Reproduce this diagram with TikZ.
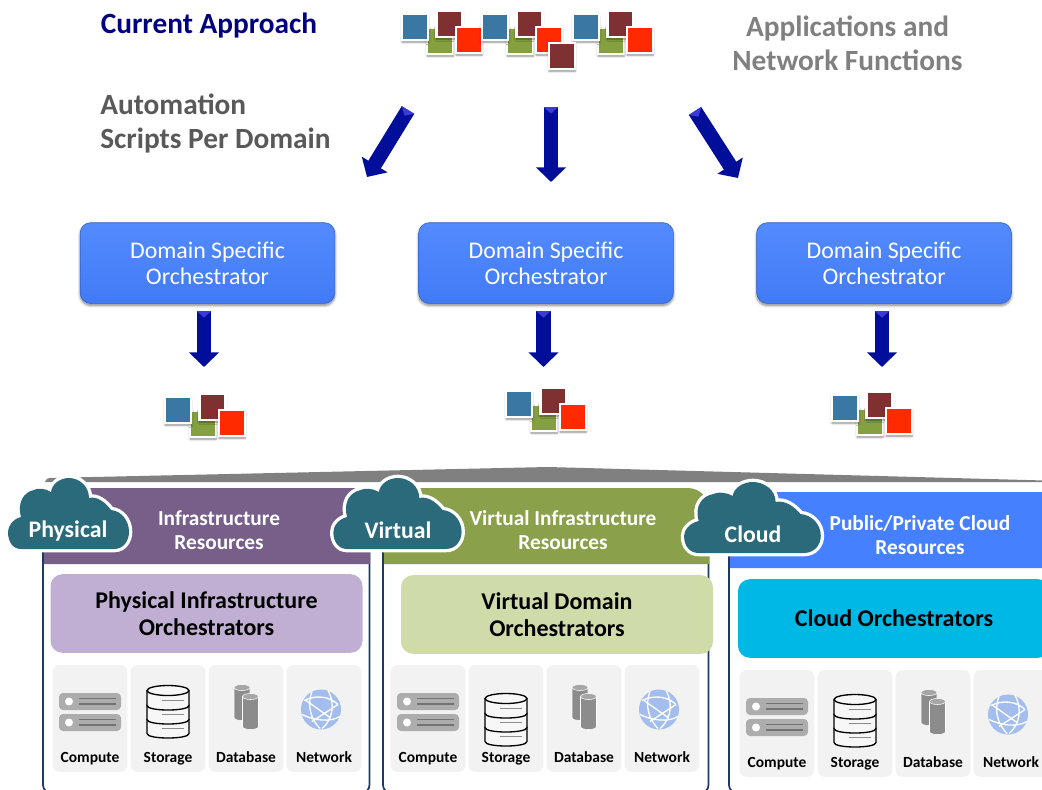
\documentclass[tikz,border=0pt]{standalone}
\usepackage{fontspec}
\setmainfont{Carlito}
\usetikzlibrary{arrows.meta,calc,positioning,shadows.blur}

\definecolor{navy}{HTML}{000080}
\definecolor{arrowblue}{HTML}{000E9A}
\definecolor{arrowlight}{HTML}{3A3AD8}
\definecolor{cloudteal}{HTML}{2A6A7A}
\definecolor{framenavy}{HTML}{1F3864}
\definecolor{purplehead}{HTML}{775F8A}
\definecolor{greenhead}{HTML}{8AA04A}
\definecolor{bluehead}{HTML}{4480FF}
\definecolor{purpleorch}{HTML}{C0AFD2}
\definecolor{greenorch}{HTML}{CFDCAA}
\definecolor{cyanorch}{HTML}{00B8E6}
\definecolor{sqblue}{HTML}{3A78A3}
\definecolor{sqgreen}{HTML}{84A040}
\definecolor{sqbrown}{HTML}{7F3030}
\definecolor{sqred}{HTML}{FF2A00}
\definecolor{iconblue}{HTML}{A3BEEE}

\tikzstyle{arrow}=[draw=arrowblue, line width=11pt, -{Triangle[length=11pt,width=22pt]}]
\tikzstyle{square}=[draw=white, line width=1.6pt, minimum size=19.5pt, inner sep=0pt, blur shadow={shadow xshift=0pt, shadow yshift=-1.6pt, shadow blur steps=6, shadow blur radius=1.6pt, shadow opacity=45}]
\tikzstyle{dso}=[rounded corners=8pt, minimum width=191pt, minimum height=60.5pt, inner sep=0pt, align=center, text=white, top color=bluehead!92!white, bottom color=bluehead!96!black, draw=bluehead!80!black, line width=.5pt, blur shadow={shadow xshift=0pt, shadow yshift=-1.6pt, shadow blur steps=6, shadow blur radius=2pt, shadow opacity=50}, font=\fontsize{17.9}{19.5}\selectfont]
\tikzstyle{heading}=[inner sep=0pt, align=center, font=\fontsize{22}{25.5}\bfseries\selectfont]
\tikzstyle{headtext}=[inner sep=0pt, align=center, text=white, font=\fontsize{16}{18}\bfseries\selectfont]
\tikzstyle{orch}=[rounded corners=9pt, minimum width=234pt, minimum height=59pt, inner sep=0pt, align=center, font=\fontsize{18}{20}\bfseries\selectfont]
\tikzstyle{tile}=[fill=black!5, rounded corners=5pt, minimum width=56pt, minimum height=80pt, inner sep=0pt]
\tikzstyle{tiletext}=[inner sep=0pt, text height=8pt, text depth=2.5pt, font=\fontsize{11.6}{13}\bfseries\selectfont]
\tikzstyle{lane}=[draw=framenavy, line width=1.3pt, rounded corners=6pt]
\tikzstyle{cloudtext}=[inner sep=0pt, text=white, font=\fontsize{17.8}{20}\bfseries\selectfont]

\tikzset{
  apps/.pic={
    \node (-g) [square, fill=sqgreen] at (25,14) {};
    \node (-b) [square, fill=sqblue] at (0,0) {};
    \node (-m) [square, fill=sqbrown] at (34.5,-3) {};
    \node (-r) [square, fill=sqred] at (54,13) {};
  },
  domaincloud/.pic={
    \path [preaction={draw=white, line width=5pt}, fill=cloudteal] (-48,17) -- (45,17)
      .. controls (55,17) and (60,8) .. (60,0)
      .. controls (60,-12) and (52,-21) .. (42,-22)
      .. controls (36,-30) and (28,-36) .. (20,-34)
      .. controls (20,-46) and (10,-54) .. (0,-54)
      .. controls (-9,-54) and (-17,-48) .. (-18,-40)
      .. controls (-24,-44) and (-32,-44) .. (-35,-42)
      .. controls (-45,-40) and (-52,-30) .. (-48,-15)
      .. controls (-56,-13) and (-61,-6) .. (-61,0)
      .. controls (-61,10) and (-56,17) .. (-48,17) -- cycle;
  },
  compute/.pic={
    \foreach \y in {-25.5,-4.5} {
      \fill [black!32, rounded corners=3pt] (-31,\y) rectangle (31,\y+17);
      \fill [white] (-21,\y+8.5) circle (4);
      \draw [black!55, line width=.9pt] (-11,\y+5.5) -- (26,\y+5.5) (-11,\y+11) -- (26,\y+11);
    }
  },
  storage/.pic={
    \foreach \y in {22,8,-6} {
      \draw [fill=black!3, draw=black, line width=1pt] (-21,#1+\y-22) -- (-21,#1+\y-7)
        .. controls (-21,#1+\y-1) and (21,#1+\y-1) .. (21,#1+\y-7) -- (21,#1+\y-22);
      \draw [black!45, line width=1pt] (-6,#1+\y-12) -- (16,#1+\y-12);
    }
    \draw [fill=black!3, draw=black, line width=1pt] (0,#1-28) ellipse (21 and 5);
  },
  database/.pic={
    \foreach \cx/\top/\bot in {-4/-31/-1,4.5/-22/8} {
      \fill [black!45, draw=white, line width=.4pt] (\cx-8,\top) -- (\cx-8,\bot)
        .. controls (\cx-8,\bot+4) and (\cx+8,\bot+4) .. (\cx+8,\bot) -- (\cx+8,\top) -- cycle;
      \fill [black!35, draw=white, line width=.4pt] (\cx,\top) ellipse (8 and 3);
    }
  },
  network/.pic={
    \fill [iconblue] (-3,-9) circle (20);
    \draw [white, line width=1pt] (-20,-18) .. controls (-8,-24) and (6,-22) .. (14,-14)
      (-22,-4) .. controls (-10,2) and (6,4) .. (16,-2)
      (-12,-27) .. controls (-18,-12) and (-12,2) .. (-4,10)
      (4,-28) .. controls (12,-14) and (8,2) .. (-2,10)
      (-18,-18) -- (6,-1) (14,-14) -- (-12,3);
  }
}

\begin{document}
\begin{tikzpicture}[x=.75pt,y=-.75pt]
\useasboundingbox (0,0) rectangle (1042,789);

% top row
\node (current) [heading, text=navy] at (209,25.5) {Current Approach};
\node (scripts) [heading, text=black!65, align=left, anchor=west] at (100,123) {Automation\\Scripts Per Domain};
\node (functions) [heading, text=black!50] at (847.5,43.5) {Applications and\\Network Functions};

\pic (top1) at (415,27) {apps};
\pic (top2) at (495,27) {apps};
\pic (top3) at (586,27) {apps};
\node (topx) [square, fill=sqbrown] at (562,56) {};

% orchestrators
\node (dso1) [dso] at (207.5,263) {Domain Specific\\Orchestrator};
\node (dso2) [dso, right of=dso1, node distance=253.9pt] {Domain Specific\\Orchestrator};
\node (dso3) [dso, right of=dso2, node distance=253.5pt] {Domain Specific\\Orchestrator};

\coordinate (fromtop1) at (408,110);
\coordinate (fromtop2) at (551,107);
\coordinate (fromtop3) at (695,111);
\coordinate (intodso1) at (367,177);
\coordinate (intodso2) at (551,182);
\coordinate (intodso3) at (738,178);
\coordinate (fromdso1) at (204,311);
\coordinate (fromdso2) at (543.5,311);
\coordinate (fromdso3) at (882,311);
\coordinate (intoapps1) at (204,367);
\coordinate (intoapps2) at (543.5,367);
\coordinate (intoapps3) at (882,367);

\foreach \a/\b in {fromtop1/intodso1,fromtop2/intodso2,fromtop3/intodso3,fromdso1/intoapps1,fromdso2/intoapps2,fromdso3/intoapps3} {
  \draw [arrow] (\a) -- (\b);
  \fill [arrowlight] ($(\a)!5.5pt!90:(\b)$) -- ($(\a)!5.5pt!-90:(\b)$) -- ($(\a)!5pt!(\b)$) -- cycle;
}

\pic (apps1) at (178,410) {apps};
\pic (apps2) at (519,404) {apps};
\pic (apps3) at (845,408) {apps};

% roof and lanes
\fill [black!50] (45,482) [rounded corners=2pt] -- (47,478) [sharp corners] -- (548,467) -- (1100,482) -- cycle;

\draw [lane] (43,550) -- (43,793) -- (369.5,793) -- (369.5,550);
\draw [lane] (383,550) -- (383,793) -- (708.5,793) -- (708.5,550);
\draw [lane] (729,550) -- (729,793) -- (1060,793) -- (1060,550);

\fill [purplehead] (44,564) -- (44,540) [rounded corners=12pt] -- (44,488) -- (370,488) [sharp corners] -- (370,564) -- cycle;
\fill [greenhead] (384,564) -- (384,540) [rounded corners=16pt] -- (384,488) -- (709,488) [sharp corners] -- (709,564) -- cycle;
\fill [bluehead] (730,568) -- (730,540) [rounded corners=14pt] -- (730,492) -- (1062,492) [sharp corners] -- (1062,568) -- cycle;

\node (infra) [headtext] at (219,530.5) {Infrastructure\\Resources};
\node (virt) [headtext] at (563,530.5) {Virtual Infrastructure\\Resources};
\node (public) [headtext] at (920,535.5) {Public/Private Cloud\\Resources};

\pic at (69,532) {domaincloud};
\node (physical) [cloudtext] at (68,531) {Physical};
\pic [xscale=1.06] at (398,532) {domaincloud};
\node (virtual) [cloudtext] at (398,530) {Virtual};
\pic [xscale=1.13] at (753,536) {domaincloud};
\node (cloud) [cloudtext] at (753,534.5) {Cloud};

\node (orchp) [orch, fill=purpleorch] at (206.5,613.5) {Physical Infrastructure\\Orchestrators};
\node (orchv) [orch, fill=greenorch] at (557,614.5) {Virtual Domain\\Orchestrators};
\node (orchc) [orch, fill=cyanorch] at (894,618.5) {Cloud Orchestrators};

\foreach \lane/\tx/\ty/\drop in {p/53/665/0,v/391/665/8,c/740/670/4} {
  \foreach \kind/\label [count=\i from 0] in {compute/Compute,storage/Storage,database/Database,network/Network} {
    \node (\lane\kind) [tile] at ({\tx+37+78*\i},{\ty+53.5}) {};
    \node (\lane\kind text) [tiletext] at ({\tx+37+78*\i},{\ty+94}) {\label};
    \pic at (\lane\kind) {\kind=\drop};
  }
}

\end{tikzpicture}
\end{document}
